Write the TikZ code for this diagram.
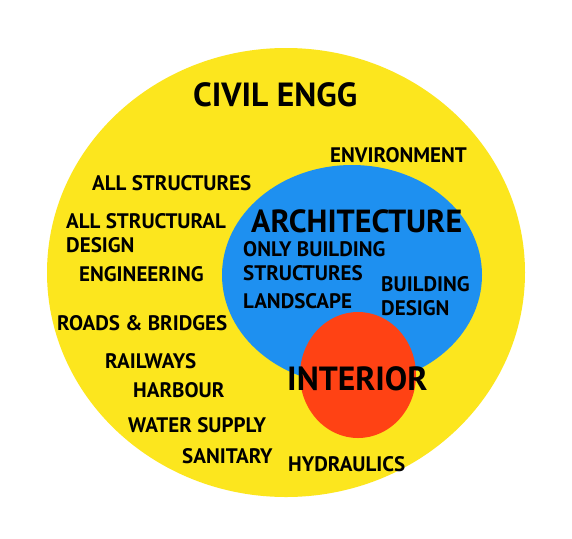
\documentclass[tikz,border=0pt]{standalone}
\usepackage{fontspec}
\setmainfont{PT Sans}
\definecolor{civilyellow}{RGB}{252,230,30}
\definecolor{archblue}{RGB}{30,144,240}
\definecolor{interred}{RGB}{255,66,20}
\tikzset{
  lbl/.style={anchor=west,inner sep=0pt,align=left,font=\bfseries\fontsize{21}{24}\selectfont},
  biglbl/.style={lbl,font=\bfseries\fontsize{32}{33}\selectfont}
}
\begin{document}
\begin{tikzpicture}[x=1pt,y=-1pt]
\useasboundingbox (0,0) rectangle (572,538);
\fill[white] (0,0) rectangle (572,538);

\fill[civilyellow] (286,272.5) ellipse [x radius=239pt,y radius=224.5pt];
\fill[archblue] (352,275) ellipse [x radius=130pt,y radius=110pt];
\fill[interred] (358,375) ellipse [x radius=58pt,y radius=63pt];

% civil engg
\node[biglbl,font=\bfseries\fontsize{33.5}{34}\selectfont] (civil) at (193,95) {CIVIL ENGG};
\node[lbl] (env) at (330,155) {ENVIRONMENT};
\node[lbl] (allstr) at (92,183) {ALL STRUCTURES};
\node[lbl] (strdes) at (66,233) {ALL STRUCTURAL\\DESIGN};
\node[lbl] (engg) at (79,274) {ENGINEERING};
\node[lbl] (roads) at (57,323) {ROADS \& BRIDGES};
\node[lbl] (rail) at (105,361) {RAILWAYS};
\node[lbl] (harb) at (133,390) {HARBOUR};
\node[lbl] (water) at (128,425) {WATER SUPPLY};
\node[lbl] (sani) at (182,456) {SANITARY};
\node[lbl] (hydr) at (288,464) {HYDRAULICS};

% architecture
\node[biglbl] (arch) at (251,221) {ARCHITECTURE};
\node[lbl] (onlybld) at (243,261) {ONLY BUILDING\\STRUCTURES};
\node[lbl] (land) at (243,301) {LANDSCAPE};
\node[lbl] (blddes) at (381,296) {BUILDING\\DESIGN};

% interior
\node[biglbl,font=\bfseries\fontsize{33.5}{34}\selectfont] (inter) at (287,379) {INTERIOR};
\end{tikzpicture}
\end{document}
